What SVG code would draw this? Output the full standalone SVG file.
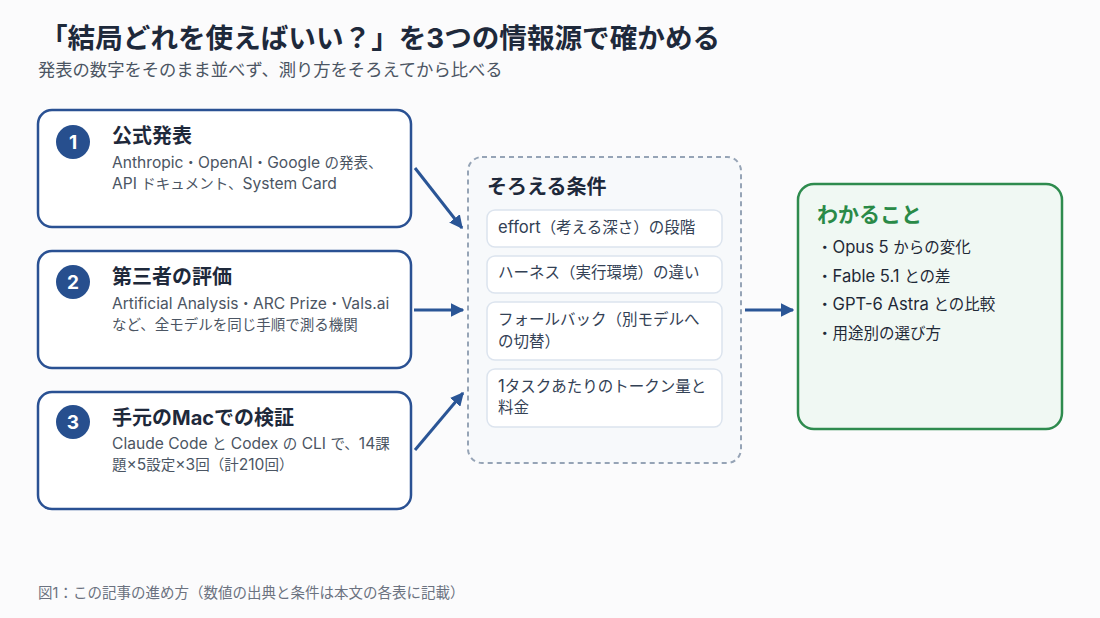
<svg xmlns="http://www.w3.org/2000/svg" width="1100" height="618" viewBox="0 0 1100 618">
<defs>
<style>
text{font-family:"Inter","Noto Sans CJK JP",sans-serif;}
.title{font-size:27.6px;font-weight:700;fill:#1e293b;}
.sub{font-size:17.3px;fill:#4b5563;}
.src{fill:#ffffff;stroke:#2a5193;stroke-width:2.5;}
.num{fill:#274f8e;}
.numt{font-size:19px;font-weight:700;fill:#ffffff;text-anchor:middle;}
.h{font-size:20px;font-weight:700;fill:#1e293b;}
.d{font-size:14.5px;fill:#4b5563;}
.l{font-size:15.6px;}
.L{font-size:16.6px;}
.item{fill:#ffffff;stroke:#dce4ee;stroke-width:1.5;}
.it{font-size:15.5px;fill:#334155;}
.b{font-size:15.5px;fill:#1f2937;}
.conn{stroke:#2a5596;stroke-width:3;fill:none;marker-end:url(#ah);}
.foot{font-size:14.5px;fill:#6b7280;}
</style>
<marker id="ah" viewBox="0 0 10 10" refX="9" refY="5" markerWidth="4.5" markerHeight="4.5" orient="auto" markerUnits="strokeWidth">
<path d="M0,0 L10,5 L0,10 z" fill="#2a5596"/>
</marker>
</defs>
<rect x="0" y="0" width="1100" height="618" fill="#fbfbfc"/>
<text class="title" x="40" y="48">「結局どれを使えばいい？」を3つの情報源で確かめる</text>
<text class="sub" x="38" y="76">発表の数字をそのまま並べず、測り方をそろえてから比べる</text>

<g id="node-official">
<rect class="src" x="38" y="110" width="373" height="117" rx="14"/>
<circle class="num" cx="73" cy="142" r="17"/>
<text class="numt" x="73" y="149">1</text>
<text class="h" x="112" y="143">公式発表</text>
<text class="d" x="112" y="168"><tspan class="l">Anthropic</tspan>・<tspan class="l">OpenAI</tspan>・<tspan class="l">Google </tspan>の発表、</text>
<text class="d" x="112" y="189"><tspan class="l">API </tspan>ドキュメント、<tspan class="l">System Card</tspan></text>
</g>

<g id="node-thirdparty">
<rect class="src" x="38" y="251" width="373" height="117" rx="14"/>
<circle class="num" cx="73" cy="282" r="17"/>
<text class="numt" x="73" y="289">2</text>
<text class="h" x="112" y="284">第三者の評価</text>
<text class="d" x="112" y="309"><tspan class="l">Artificial Analysis</tspan>・<tspan class="l">ARC Prize</tspan>・<tspan class="l">Vals.ai</tspan></text>
<text class="d" x="112" y="330">など、全モデルを同じ手順で測る機関</text>
</g>

<g id="node-local">
<rect class="src" x="38" y="392" width="373" height="117" rx="14"/>
<circle class="num" cx="73" cy="422" r="17"/>
<text class="numt" x="73" y="429">3</text>
<text class="h" x="112" y="425">手元のMacでの検証</text>
<text class="d" x="112" y="449"><tspan class="l">Claude Code </tspan>と<tspan class="l"> Codex </tspan>の<tspan class="l"> CLI </tspan>で、<tspan class="l">14</tspan>課</text>
<text class="d" x="112" y="470">題<tspan class="l">×5</tspan>設定<tspan class="l">×3</tspan>回（計<tspan class="l">210</tspan>回）</text>
</g>

<g id="node-conditions">
<rect x="468" y="157" width="273" height="306" rx="14" fill="#f7f9fb" stroke="#96a4b6" stroke-width="2" stroke-dasharray="5 4"/>
<text class="h" x="487" y="194">そろえる条件</text>
<rect class="item" x="487" y="210" width="235" height="37" rx="8"/>
<text class="it" x="498" y="233"><tspan class="L">effort</tspan>（考える深さ）の段階</text>
<rect class="item" x="487" y="256" width="235" height="37" rx="8"/>
<text class="it" x="498" y="278">ハーネス（実行環境）の違い</text>
<rect class="item" x="487" y="302" width="235" height="58" rx="8"/>
<text class="it" x="498" y="325">フォールバック（別モデルへ</text>
<text class="it" x="498" y="347">の切替）</text>
<rect class="item" x="487" y="369" width="235" height="58" rx="8"/>
<text class="it" x="498" y="392"><tspan class="L">1</tspan>タスクあたりのトークン量と</text>
<text class="it" x="498" y="413">料金</text>
</g>

<g id="node-outcome">
<rect x="798" y="184" width="264" height="245" rx="16" fill="#f0f8f3" stroke="#2e8b4e" stroke-width="2.5"/>
<text x="817" y="222" font-size="21" font-weight="700" fill="#2a8a47">わかること</text>
<text class="b" x="817" y="253">・<tspan class="L">Opus 5 </tspan>からの変化</text>
<text class="b" x="817" y="282">・<tspan class="L">Fable 5.1 </tspan>との差</text>
<text class="b" x="817" y="310">・<tspan class="L">GPT-6 Astra </tspan>との比較</text>
<text class="b" x="817" y="339">・用途別の選び方</text>
</g>

<g id="connectors">
<line class="conn" x1="415" y1="168" x2="462" y2="228"/>
<line class="conn" x1="414" y1="310" x2="463" y2="310"/>
<line class="conn" x1="415" y1="450" x2="463" y2="393"/>
<line class="conn" x1="745" y1="310" x2="793" y2="310"/>
</g>

<text class="foot" x="38" y="598">図1：この記事の進め方（数値の出典と条件は本文の各表に記載）</text>
</svg>
